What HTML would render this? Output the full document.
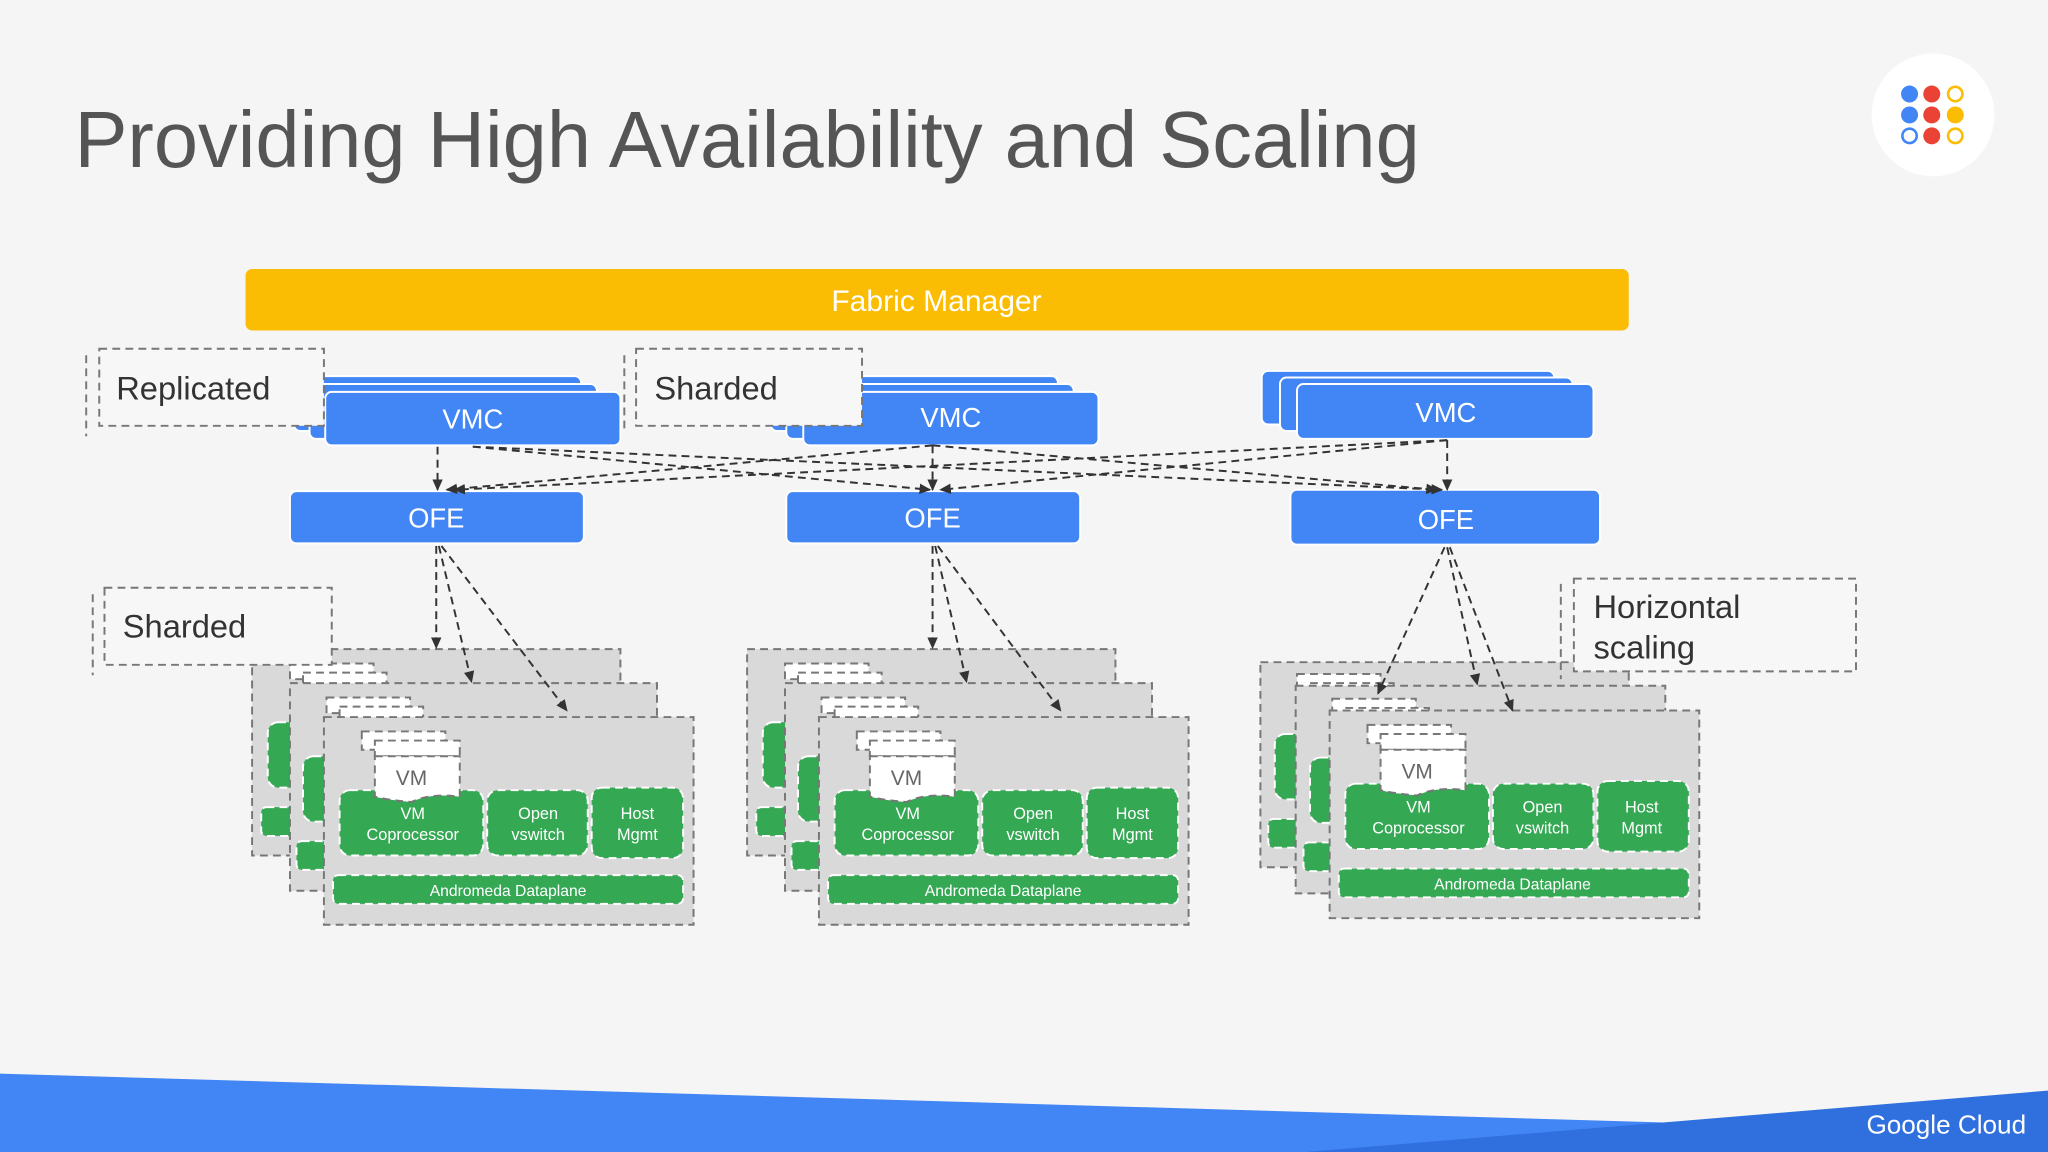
<!DOCTYPE html>
<html><head><meta charset="utf-8"><style>
html,body{margin:0;padding:0;background:#f5f5f5;}
svg{display:block;}
text{font-family:"Liberation Sans",sans-serif;}
</style></head><body>
<svg width="2048" height="1152" viewBox="0 0 1568 882" xmlns="http://www.w3.org/2000/svg">
<defs>
<marker id="ah" markerWidth="10" markerHeight="10" refX="8" refY="5" orient="auto" markerUnits="userSpaceOnUse">
<path d="M0,1 L9,5 L0,9 Z" fill="#333"/></marker>
</defs>
<rect width="1568" height="882" fill="#f5f5f5"/>
<text x="57" y="128" font-size="61" fill="#555" textLength="1030" lengthAdjust="spacingAndGlyphs">Providing High Availability and Scaling</text>
<circle cx="1480" cy="88" r="47" fill="#fff"/>
<g stroke-width="2">
<circle cx="1462" cy="72" r="6.5" fill="#4285f4"/><circle cx="1479" cy="72" r="6.5" fill="#ea4335"/><circle cx="1497" cy="72" r="5.5" fill="none" stroke="#fbbc04"/>
<circle cx="1462" cy="88" r="6.5" fill="#4285f4"/><circle cx="1479" cy="88" r="6.5" fill="#ea4335"/><circle cx="1497" cy="88" r="6.5" fill="#fbbc04"/>
<circle cx="1462" cy="104" r="5.5" fill="none" stroke="#4285f4"/><circle cx="1479" cy="104" r="6.5" fill="#ea4335"/><circle cx="1497" cy="104" r="5.5" fill="none" stroke="#fbbc04"/>
</g>
<rect x="188" y="206" width="1059" height="47" rx="5" fill="#fbbc04"/>
<text x="717" y="238" font-size="23" fill="#fff" text-anchor="middle">Fabric Manager</text>

<!-- VMCs -->
<g fill="#4285f4" stroke="#fff" stroke-width="1.5">
<rect x="225" y="288" width="220" height="42" rx="5"/><rect x="237" y="294" width="220" height="42" rx="5"/><rect x="249" y="300" width="226" height="41" rx="5"/>
<rect x="590" y="288" width="220" height="42" rx="5"/><rect x="602" y="294" width="220" height="42" rx="5"/><rect x="615" y="300" width="226" height="41" rx="5"/>
<rect x="966" y="284" width="224" height="41" rx="5"/><rect x="980" y="289" width="224" height="41" rx="5"/><rect x="993" y="294" width="227" height="42" rx="5"/>
<rect x="222" y="376" width="225" height="40" rx="5"/><rect x="602" y="376" width="225" height="40" rx="5"/><rect x="988" y="375" width="237" height="42" rx="5"/>
</g>
<g fill="#fff" font-size="21" text-anchor="middle">
<text x="362" y="328">VMC</text><text x="728" y="327">VMC</text><text x="1107" y="323">VMC</text>
<text x="334" y="404">OFE</text><text x="714" y="404">OFE</text><text x="1107" y="405">OFE</text>
</g>

<!-- notes top -->
<g fill="#f7f7f7" stroke="#777" stroke-width="1.5" stroke-dasharray="6 4">
<rect x="76" y="267" width="172" height="59"/><line x1="66" y1="272" x2="66" y2="334"/>
<rect x="487" y="267" width="173" height="59"/><line x1="478" y1="272" x2="478" y2="332"/>
</g>
<text x="89" y="306" font-size="25" fill="#333">Replicated</text>
<text x="501" y="306" font-size="25" fill="#333">Sharded</text>

<!-- VMC->OFE lines -->
<g stroke="#333" stroke-width="1.5" stroke-dasharray="6 4" fill="none" marker-end="url(#ah)">
<line x1="335" y1="342" x2="335" y2="375"/>
<line x1="362" y1="342" x2="712" y2="375"/>
<line x1="362" y1="342" x2="1104" y2="375"/>
<line x1="714" y1="341" x2="714" y2="375"/>
<line x1="714" y1="341" x2="342" y2="375"/>
<line x1="714" y1="341" x2="1100" y2="375"/>
<line x1="1108" y1="337" x2="1108" y2="375"/>
<line x1="1108" y1="337" x2="348" y2="375"/>
<line x1="1108" y1="337" x2="720" y2="375"/>
</g>

<!-- host groups -->
<g id="g1">
<g stroke="#777" stroke-width="1.5" stroke-dasharray="6 4">
<rect x="193" y="497" width="282" height="158" fill="#d9d9d9"/>
<rect x="222" y="508" width="64" height="12" fill="#fff"/><rect x="232" y="515" width="64" height="10" fill="#fff"/>
<rect x="205" y="553" width="110" height="50" rx="8" fill="#34a853" stroke="#fff"/>
<rect x="200" y="618" width="268" height="22" rx="4" fill="#34a853" stroke="#fff"/>
<rect x="222" y="523" width="281" height="159" fill="#d9d9d9"/>
<rect x="250" y="534" width="64" height="12" fill="#fff"/><rect x="260" y="541" width="64" height="10" fill="#fff"/>
<rect x="232" y="579" width="110" height="50" rx="8" fill="#34a853" stroke="#fff"/>
<rect x="227" y="644" width="268" height="22" rx="4" fill="#34a853" stroke="#fff"/>
<rect x="248" y="549" width="283" height="159" fill="#d9d9d9"/>
<rect x="260" y="605" width="110" height="50" rx="8" fill="#34a853" stroke="#fff"/>
<rect x="373" y="605" width="77" height="50" rx="8" fill="#34a853" stroke="#fff"/>
<rect x="453" y="603" width="70" height="54" rx="8" fill="#34a853" stroke="#fff"/>
<rect x="255" y="670" width="268" height="22" rx="4" fill="#34a853" stroke="#fff"/>
</g>
<g fill="#fff" font-size="12.5" text-anchor="middle">
<text x="316" y="627">VM</text><text x="316" y="643">Coprocessor</text>
<text x="412" y="627">Open</text><text x="412" y="643">vswitch</text>
<text x="488" y="627">Host</text><text x="488" y="643">Mgmt</text>
<text x="389" y="686" font-size="12">Andromeda Dataplane</text>
</g>
<g stroke="#777" stroke-width="1.5" stroke-dasharray="6 4" fill="#fff">
<rect x="277" y="560" width="64" height="14"/><rect x="287" y="567" width="65" height="12"/>
<path d="M287,579 H352 V610 Q330,607 315,614 Q300,613 287,610 Z"/>
</g>
<text x="315" y="601" font-size="16" fill="#666" text-anchor="middle">VM</text>
</g>

<g id="g2">
<g stroke="#777" stroke-width="1.5" stroke-dasharray="6 4">
<rect x="572" y="497" width="282" height="158" fill="#d9d9d9"/>
<rect x="601" y="508" width="64" height="12" fill="#fff"/><rect x="611" y="515" width="64" height="10" fill="#fff"/>
<rect x="584" y="553" width="110" height="50" rx="8" fill="#34a853" stroke="#fff"/>
<rect x="579" y="618" width="268" height="22" rx="4" fill="#34a853" stroke="#fff"/>
<rect x="601" y="523" width="281" height="159" fill="#d9d9d9"/>
<rect x="629" y="534" width="64" height="12" fill="#fff"/><rect x="639" y="541" width="64" height="10" fill="#fff"/>
<rect x="611" y="579" width="110" height="50" rx="8" fill="#34a853" stroke="#fff"/>
<rect x="606" y="644" width="268" height="22" rx="4" fill="#34a853" stroke="#fff"/>
<rect x="627" y="549" width="283" height="159" fill="#d9d9d9"/>
<rect x="639" y="605" width="110" height="50" rx="8" fill="#34a853" stroke="#fff"/>
<rect x="752" y="605" width="77" height="50" rx="8" fill="#34a853" stroke="#fff"/>
<rect x="832" y="603" width="70" height="54" rx="8" fill="#34a853" stroke="#fff"/>
<rect x="634" y="670" width="268" height="22" rx="4" fill="#34a853" stroke="#fff"/>
</g>
<g fill="#fff" font-size="12.5" text-anchor="middle">
<text x="695" y="627">VM</text><text x="695" y="643">Coprocessor</text>
<text x="791" y="627">Open</text><text x="791" y="643">vswitch</text>
<text x="867" y="627">Host</text><text x="867" y="643">Mgmt</text>
<text x="768" y="686" font-size="12">Andromeda Dataplane</text>
</g>
<g stroke="#777" stroke-width="1.5" stroke-dasharray="6 4" fill="#fff">
<rect x="656" y="560" width="64" height="14"/><rect x="666" y="567" width="65" height="12"/>
<path d="M666,579 H731 V610 Q709,607 694,614 Q679,613 666,610 Z"/>
</g>
<text x="694" y="601" font-size="16" fill="#666" text-anchor="middle">VM</text>
</g>

<g id="g3">
<g stroke="#777" stroke-width="1.5" stroke-dasharray="6 4">
<rect x="965" y="507" width="282" height="157" fill="#d9d9d9"/>
<rect x="993" y="516" width="64" height="12" fill="#fff"/><rect x="1003" y="523" width="64" height="10" fill="#fff"/>
<rect x="976" y="562" width="110" height="50" rx="8" fill="#34a853" stroke="#fff"/>
<rect x="971" y="627" width="268" height="22" rx="4" fill="#34a853" stroke="#fff"/>
<rect x="992" y="525" width="283" height="159" fill="#d9d9d9"/>
<rect x="1020" y="535" width="64" height="12" fill="#fff"/><rect x="1030" y="542" width="64" height="10" fill="#fff"/>
<rect x="1003" y="580" width="110" height="50" rx="8" fill="#34a853" stroke="#fff"/>
<rect x="998" y="645" width="268" height="22" rx="4" fill="#34a853" stroke="#fff"/>
<rect x="1018" y="544" width="283" height="159" fill="#d9d9d9"/>
<rect x="1030" y="600" width="110" height="50" rx="8" fill="#34a853" stroke="#fff"/>
<rect x="1143" y="600" width="77" height="50" rx="8" fill="#34a853" stroke="#fff"/>
<rect x="1223" y="598" width="70" height="54" rx="8" fill="#34a853" stroke="#fff"/>
<rect x="1025" y="665" width="268" height="22" rx="4" fill="#34a853" stroke="#fff"/>
</g>
<g fill="#fff" font-size="12.5" text-anchor="middle">
<text x="1086" y="622">VM</text><text x="1086" y="638">Coprocessor</text>
<text x="1181" y="622">Open</text><text x="1181" y="638">vswitch</text>
<text x="1257" y="622">Host</text><text x="1257" y="638">Mgmt</text>
<text x="1158" y="681" font-size="12">Andromeda Dataplane</text>
</g>
<g stroke="#777" stroke-width="1.5" stroke-dasharray="6 4" fill="#fff">
<rect x="1047" y="555" width="64" height="14"/><rect x="1057" y="562" width="65" height="12"/>
<path d="M1057,574 H1122 V605 Q1100,602 1085,609 Q1070,608 1057,605 Z"/>
</g>
<text x="1085" y="596" font-size="16" fill="#666" text-anchor="middle">VM</text>
</g>

<!-- notes lower -->
<g fill="#f7f7f7" stroke="#777" stroke-width="1.5" stroke-dasharray="6 4">
<rect x="80" y="450" width="174" height="59"/><line x1="71" y1="455" x2="71" y2="517"/>
<rect x="1205" y="443" width="216" height="71"/><line x1="1195" y1="447" x2="1195" y2="520"/>
</g>
<text x="94" y="488" font-size="25" fill="#333">Sharded</text>
<text x="1220" y="473" font-size="25" fill="#333">Horizontal</text>
<text x="1220" y="504" font-size="25" fill="#333">scaling</text>

<!-- OFE->host arrows -->
<g stroke="#333" stroke-width="1.5" stroke-dasharray="6 4" fill="none" marker-end="url(#ah)">
<line x1="334" y1="418" x2="334" y2="496"/>
<line x1="336" y1="418" x2="361" y2="522"/>
<line x1="338" y1="418" x2="434" y2="544"/>
<line x1="714" y1="418" x2="714" y2="496"/>
<line x1="716" y1="418" x2="740" y2="522"/>
<line x1="718" y1="418" x2="812" y2="544"/>
<line x1="1106" y1="419" x2="1055" y2="531"/>
<line x1="1108" y1="419" x2="1131" y2="524"/>
<line x1="1110" y1="419" x2="1158" y2="544"/>
</g>

<!-- bottom band -->
<polygon points="0,822 1568,868 1568,882 0,882" fill="#4285f4"/>
<polygon points="1000,882 1568,835 1568,882" fill="#2f6fde"/>
<text x="1429" y="868" font-size="20" fill="#fff">Google Cloud</text>
</svg>
</body></html>
